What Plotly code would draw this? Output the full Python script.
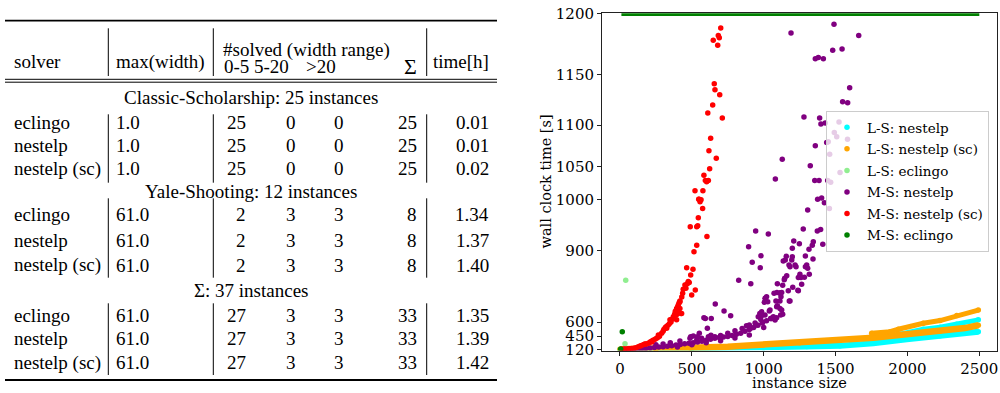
import numpy as np
import plotly.graph_objects as go

W, H = 1000, 393

# ---------------- table data ----------------
header_solver = "solver"
header_width = "max(width)"
header_solved = "#solved (width range)"
header_ranges = ["0-5", "5-20", ">20"]
header_sum = "Σ"
header_time = "time[h]"

solvers = ["eclingo", "nestelp", "nestelp (sc)"]
groups = ["Classic-Scholarship: 25 instances", "Yale-Shooting: 12 instances", "Σ: 37 instances"]
max_width = [["1.0", "1.0", "1.0"], ["61.0", "61.0", "61.0"], ["61.0", "61.0", "61.0"]]
solved_0_5 = [[25, 25, 25], [2, 2, 2], [27, 27, 27]]
solved_5_20 = [[0, 0, 0], [3, 3, 3], [3, 3, 3]]
solved_gt20 = [[0, 0, 0], [3, 3, 3], [3, 3, 3]]
solved_total = [[25, 25, 25], [8, 8, 8], [33, 33, 33]]
time_h = [["0.01", "0.01", "0.02"], ["1.34", "1.37", "1.40"], ["1.35", "1.39", "1.42"]]

# ---------------- scatter data (instance size, wall clock time [s]) ----------------
# L-S: nestelp (cyan) - two bands
ls_n_low_size = [0, 500, 1000, 1300, 1531, 1763, 1995, 2227, 2493]
ls_n_low_time = [118, 135, 160, 190, 209, 269, 368, 453, 496]
ls_n_up_size = [1948, 2110, 2227, 2343, 2493]
ls_n_up_time = [469, 522, 543, 575, 609]

# L-S: nestelp (sc) (orange) - two bands
ls_sc_low_size = [0, 250, 487, 750, 997, 1250, 1508, 1763, 1995, 2227, 2400, 2493]
ls_sc_low_time = [120, 127, 160, 185, 227, 280, 351, 408, 469, 504, 535, 565]
ls_sc_up_size = [1751, 1879, 1937, 2110, 2227, 2343, 2493]
ls_sc_up_time = [479, 496, 522, 586, 606, 627, 650]

# L-S: eclingo (lightgreen)
ls_e_size = [40, 35]
ls_e_time = [775, 259]

# M-S: nestelp (purple)
ms_n_size = [1190, 1489, 1661, 1480, 1545, 1359, 1380, 1415,
             1598, 1549, 1584, 1280, 1389, 1398, 1428, 1524, 1491, 1508, 1438, 1449, 1359, 1459, 1129, 1324,
             1081, 1355, 1385, 1445, 1466, 1583, 1531,
             1375, 1403, 1422, 1457, 1306, 1275, 1373, 1396, 1209, 1248, 1345, 1338, 1411, 1199, 1315,
             1157, 1136, 1150, 1199, 1290, 1195, 1176, 1218, 1225, 1183, 1299, 1306, 1290, 1343, 1317, 1146,
             1160, 1241, 1259, 1283, 1252, 1264, 1202, 1171, 1241, 1125, 1120, 1183, 1113, 1125, 1118,
             944, 1032, 895, 981, 920, 976, 826, 910,
             1095, 1143, 1132, 1116, 1238, 1072, 1092, 1113, 1009, 1028, 1004, 1085, 1113, 663, 724, 770,
             594, 635, 608, 552, 492,
             1039, 1067, 1049, 1079, 1090, 986, 1009, 1095, 1132, 993, 951, 910, 900,
             510, 538, 633, 1020, 1044, 1090, 1055, 1178, 973, 985, 962, 584,
             30, 60, 90, 120, 150, 180, 210, 240, 270, 300, 330, 360, 390, 420, 450, 480, 510, 540, 570, 600,
             630, 660, 690, 720, 750, 780, 810, 840, 870, 900, 930, 960, 990, 1020, 1050,
             250, 300, 350, 417, 487, 534, 568, 615, 660, 700, 750, 800, 850, 880, 940, 980,
             400, 500, 600, 700, 800, 900, 1000]
ms_n_time = [1184, 1191, 1182, 1170, 1171, 1163, 1164, 1163,
             1137, 1123, 1122, 1108, 1107, 1101, 1102, 1103, 1091, 1086, 1079, 1080, 1075, 1065, 1059, 1051,
             1031, 1029, 1029, 1029, 1026, 1083, 1041,
             1000, 1002, 993, 982, 979, 942, 938, 941, 918, 913, 917, 910, 912, 904, 902,
             875, 855, 859, 873, 876, 859, 839, 839, 831, 831, 839, 825, 831, 864, 800, 783,
             794, 786, 786, 787, 800, 758, 745, 731, 731, 723, 706, 688, 657, 650, 629,
             938, 932, 907, 877, 850, 827, 775, 760,
             760, 777, 754, 722, 733, 720, 723, 720, 699, 685, 683, 688, 688, 675, 646, 626,
             615, 615, 533, 479, 433,
             646, 622, 615, 608, 618, 643, 629, 668, 632, 597, 568, 533, 568,
             450, 433, 457, 706, 650, 664, 615, 688, 636, 626, 622, 618,
             122, 125, 127, 130, 135, 140, 150, 165, 175, 185, 195, 210, 225, 240, 255, 270, 285, 300, 320, 345,
             370, 395, 410, 425, 440, 455, 468, 480, 500, 520, 540, 565, 590, 605, 615,
             230, 250, 280, 326, 393, 351, 393, 433, 430, 455, 480, 505, 530, 560, 590, 610,
             180, 230, 280, 330, 400, 460, 540]

# M-S: nestelp (sc) (red)
ms_sc_size = [701, 684, 691, 649, 680,
              656, 661, 694, 645, 611, 712,
              631, 619, 670, 624, 584, 594, 615, 603,
              522, 577, 548, 550, 564, 557,
              575, 545, 489, 534, 541, 605, 534, 515,
              464, 508, 492, 475, 468, 482, 452, 459, 440, 436, 524, 499, 417, 410, 401, 417, 424, 408, 392,
              10, 20, 35, 50, 65, 80, 95, 110, 127, 140, 150, 165, 180, 197, 210, 220, 230, 244, 255, 265,
              275, 290, 300, 305, 315, 325, 336, 345, 355, 362, 371, 380, 385, 394, 405, 417, 430,
              429, 394, 348, 325, 267, 221, 174]
ms_sc_time = [1188, 1182, 1180, 1178, 1174,
              1141, 1135, 1130, 1120, 1112, 1107,
              1084, 1069, 1060, 1047, 1037, 1029, 1029, 1027,
              1013, 1013, 1000, 1000, 999, 995,
              982, 964, 946, 946, 948, 927, 910, 894,
              827, 821, 797, 769, 760, 765, 755, 741, 737, 720, 734, 713, 688, 678, 663, 657, 636, 639, 629,
              122, 124, 127, 130, 134, 140, 148, 158, 185, 200, 215, 240, 250, 269, 300, 320, 345, 368, 395, 420,
              445, 479, 500, 520, 540, 555, 568, 585, 600, 612, 622, 632, 645, 657, 670, 685, 705,
              636, 609, 609, 533, 461, 300, 251]

# M-S: eclingo (green): two solved instances, the rest time out at 1200 s
ms_e_size = [5, 16]
ms_e_time = [127, 496]
ms_e_timeout_size = [10, 2500]
ms_e_timeout_time = [1200, 1200]

# ---------------- axis ----------------
Y_TICK_VALS = [120, 450, 600, 900, 1000, 1050, 1100, 1150, 1200]
Y_TICK_TEXT = [str(v) for v in Y_TICK_VALS]
X_TICK_VALS = [0, 500, 1000, 1500, 2000, 2500]
# custom (non-linear) y scale: screen position of every tick label
Y_TICK_POS = [1.2, 14.5, 28.5, 100.2, 151.2, 183.8, 225.5, 275.8, 337.2]


def yscale(vals):
    v = np.asarray(vals, dtype=float)
    out = np.interp(v, Y_TICK_VALS, Y_TICK_POS)
    slope = (Y_TICK_POS[1] - Y_TICK_POS[0]) / (Y_TICK_VALS[1] - Y_TICK_VALS[0])
    lo = v < Y_TICK_VALS[0]
    out[lo] = Y_TICK_POS[0] + (v[lo] - Y_TICK_VALS[0]) * slope
    return out


assert len(ms_n_size) == len(ms_n_time)
assert len(ms_sc_size) == len(ms_sc_time)

CYAN, ORANGE, LGREEN, PURPLE, RED, GREEN = "#00ffff", "#ffa500", "#90ee90", "#800080", "#ff0000", "#008000"
MS = 5.5

fig = go.Figure()


def band(xs, ys, color, width):
    fig.add_trace(go.Scatter(x=xs, y=yscale(ys), mode="lines", line=dict(color=color, width=width),
                             showlegend=False, hoverinfo="skip"))


band(ls_n_low_size, ls_n_low_time, CYAN, 6)
band(ls_n_up_size, ls_n_up_time, CYAN, 5)
fig.add_trace(go.Scatter(x=ls_n_low_size + ls_n_up_size, y=yscale(ls_n_low_time + ls_n_up_time), mode="markers",
                         marker=dict(color=CYAN, size=MS), name="L-S: nestelp", legendgroup="a"))
band(ls_sc_low_size, ls_sc_low_time, ORANGE, 6.5)
band(ls_sc_up_size, ls_sc_up_time, ORANGE, 5)
fig.add_trace(go.Scatter(x=ls_sc_low_size + ls_sc_up_size, y=yscale(ls_sc_low_time + ls_sc_up_time),
                         mode="markers", marker=dict(color=ORANGE, size=MS), name="L-S: nestelp (sc)",
                         legendgroup="b"))
fig.add_trace(go.Scatter(x=ls_e_size, y=yscale(ls_e_time), mode="markers", marker=dict(color=LGREEN, size=MS),
                         name="L-S: eclingo", legendgroup="c"))
fig.add_trace(go.Scatter(x=ms_n_size, y=yscale(ms_n_time), mode="markers", marker=dict(color=PURPLE, size=MS),
                         name="M-S: nestelp", legendgroup="d"))
fig.add_trace(go.Scatter(x=ms_sc_size, y=yscale(ms_sc_time), mode="markers", marker=dict(color=RED, size=MS),
                         name="M-S: nestelp (sc)", legendgroup="e"))
band(ms_e_timeout_size, ms_e_timeout_time, GREEN, 5.5)
fig.add_trace(go.Scatter(x=ms_e_size, y=yscale(ms_e_time), mode="markers", marker=dict(color=GREEN, size=MS),
                         name="M-S: eclingo", legendgroup="f"))

PLOT_L, PLOT_R, PLOT_T, PLOT_B = 602, 997, 13.3, 350.5
PFONT = "'DejaVu Serif', 'Liberation Serif', serif"

fig.update_layout(
    width=W, height=H, margin=dict(l=0, r=0, t=0, b=0, pad=0, autoexpand=False),
    paper_bgcolor="white", plot_bgcolor="white",
    xaxis=dict(domain=[PLOT_L / W, PLOT_R / W], range=[-125, 2623], tickvals=X_TICK_VALS,
               showgrid=False, zeroline=False, showline=True, mirror=True, linecolor="#222", linewidth=1,
               ticks="outside", ticklen=4, tickwidth=1, tickcolor="#222", automargin=False,
               tickfont=dict(family=PFONT, size=15, color="black")),
    yaxis=dict(domain=[1 - PLOT_B / H, 1 - PLOT_T / H], range=[0, Y_TICK_POS[-1]],
               tickvals=list(yscale(Y_TICK_VALS)), ticktext=Y_TICK_TEXT, automargin=False,
               showgrid=False, zeroline=False, showline=True, mirror=True, linecolor="#222", linewidth=1,
               ticks="outside", ticklen=4, tickwidth=1, tickcolor="#222",
               tickfont=dict(family=PFONT, size=15, color="black")),
    legend=dict(x=826 / W, y=1 - 111 / H, xanchor="left", yanchor="top",
                bgcolor="rgba(255,255,255,0.8)", bordercolor="#cccccc", borderwidth=1,
                font=dict(family=PFONT, size=13.5, color="black"), itemwidth=30, tracegroupgap=1),
    showlegend=True,
)

ann = []
ann.append(dict(text="instance size", x=799.5 / W, y=1 - 382.7 / H, xref="paper", yref="paper",
                showarrow=False, xanchor="center", yanchor="middle",
                font=dict(family=PFONT, size=14.5, color="black")))
ann.append(dict(text="wall clock time [s]", x=545.5 / W, y=1 - 182 / H, xref="paper", yref="paper",
                showarrow=False, xanchor="center", yanchor="middle", textangle=-90,
                font=dict(family=PFONT, size=14.5, color="black")))

TFONT = "'Liberation Serif', serif"
TS = 19


def t(text, x, y, anchor="left", size=TS):
    ann.append(dict(text=text, x=x / W, y=1 - y / H, xref="paper", yref="paper", showarrow=False,
                    xanchor=anchor, yanchor="middle", font=dict(family=TFONT, size=size, color="black")))


shapes = []


def hline(y, x0=5, x1=497, w=1.0):
    shapes.append(dict(type="line", xref="paper", yref="paper", x0=x0 / W, x1=x1 / W, y0=1 - y / H, y1=1 - y / H,
                       line=dict(color="black", width=w)))


def vline(x, y0, y1, w=1.0):
    shapes.append(dict(type="line", xref="paper", yref="paper", x0=x / W, x1=x / W, y0=1 - y0 / H, y1=1 - y1 / H,
                       line=dict(color="black", width=w)))


# header
t(header_solver, 11.5, 62)
t(header_width, 114, 62.5)
t(header_solved, 220.5, 50.2)
for lab, x in zip(header_ranges, [222, 252, 304]):
    t(lab, x, 66.2)
t(header_sum, 402, 66.5, size=22)
t(header_time, 431, 62)

hline(20.7, w=1.8)
hline(79.3)
hline(82.2)
hline(380, w=1.8)

VX = [108.3, 213.3, 426.7]
for x in VX:
    vline(x, 28.3, 76)

group_y = [97.7, 191.5, 290]
row_y = [[122.5, 145.5, 168.5], [215, 240, 265], [315, 338.5, 362.5]]
vspan = [[114.3, 182.7], [198.3, 277.7], [303.3, 375]]

for g in range(3):
    t(groups[g], 251, group_y[g], anchor="center")
    for x in VX:
        vline(x, vspan[g][0], vspan[g][1])
    for r in range(3):
        y = row_y[g][r]
        t(solvers[r], 11.5, y)
        t(max_width[g][r], 114, y)
        t(str(solved_0_5[g][r]), 248, y, anchor="right")
        t(str(solved_5_20[g][r]), 291, y, anchor="center")
        t(str(solved_gt20[g][r]), 339, y, anchor="center")
        t(str(solved_total[g][r]), 419, y, anchor="right")
        t(time_h[g][r], 491, y, anchor="right")

fig.update_layout(annotations=ann, shapes=shapes)
fig.write_html("out.html", config={"displayModeBar": False},
               post_script="document.body.style.margin='0px';")
